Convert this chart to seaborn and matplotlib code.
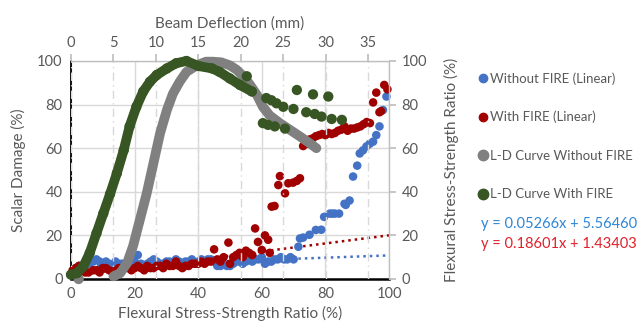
import matplotlib
matplotlib.use("Agg")
import matplotlib.pyplot as plt
import seaborn as sns
import numpy as np
import pandas as pd
from matplotlib.lines import Line2D

# ---------------- data ----------------
# Without FIRE (Linear): flexural stress-strength ratio (%) vs scalar damage (%)
blue_x = [0.5, 1.5, 2.5, 3.5, 4.5, 5.5, 7, 8, 9, 10, 11, 12, 13, 14, 15, 16, 17, 18, 19, 20,
          21, 22, 23, 24, 25, 26, 27, 28, 29, 30, 31, 32, 33, 34, 35, 36, 37, 38, 39, 40,
          41, 42, 43, 44, 45, 46, 47, 48, 49, 50, 51, 52, 53, 54, 55, 56, 57, 58, 59, 60,
          61, 62, 63, 64, 65, 66, 67, 68, 69, 70,
          71.5, 72, 73, 75, 77, 78.7, 79.6, 81.4, 82.2, 83, 84.3, 86, 86.4, 87.6, 88.7,
          90, 90.8, 91.8, 92.9, 93.9, 95, 96, 97, 98.1, 99.2]
blue_y = [3, 5, 6, 6, 7, 7, 8, 9, 8, 7, 8, 7, 6, 8, 7, 7, 6, 8, 9, 8,
          11, 7, 6, 7, 8, 9, 8, 7, 7, 8, 8, 7, 9, 8, 7, 8, 8, 9, 7, 8,
          9, 8, 9, 9, 8, 6, 6, 7, 6, 6, 7, 8, 8, 7, 8, 9, 8, 9, 9, 10,
          7, 8, 8, 9, 9, 10, 9, 9, 10, 9,
          14.8, 18.6, 19, 20.3, 22.5, 22.6, 28.5, 30, 30, 30, 30, 34.5, 34, 36, 47,
          52, 57.6, 59, 60.8, 62, 63, 66, 70, 77.5, 83.7]

# With FIRE (Linear)
red_x = [0.5, 1.5, 2.5, 3.5, 4.5, 5.5, 7, 8, 9, 10, 11, 12, 13, 14, 15, 16, 17, 18, 19, 20,
         21, 22, 23, 24, 25, 26, 27, 28, 29, 30, 31, 32, 33, 34, 35, 36, 37, 38, 39, 40,
         41, 42, 43, 44,
         45, 46, 47, 48, 49.5, 50, 51, 52, 53, 54, 55, 56, 57, 57.9, 58.8, 60, 61, 62, 62.5,
         63.1, 64, 65.2, 65.7, 67.3, 68.3, 69.8, 71, 72, 73, 74, 75, 76, 77, 78, 79, 80,
         81, 82, 83, 84, 85, 86, 87, 88, 89, 90, 91, 92, 93, 94, 95, 96, 97, 97.5, 98.5, 99.5]
red_y = [4, 5, 6, 4, 3, 3, 4, 4, 3, 5, 5, 4, 3, 4, 5, 4, 5, 5, 4, 5,
         6, 5, 4, 6, 5, 5, 6, 6, 5, 7, 6, 6, 8, 6, 5, 6, 6, 7, 7, 7,
         8, 7, 8, 8,
         13.6, 9, 8, 10, 16.7, 7, 10, 11, 12, 10, 13, 12, 11, 23.2, 17, 13.3, 20, 18, 12,
         33.2, 33.5, 43.1, 47.2, 39.3, 43.9, 44.2, 45, 46.2, 61, 62, 64, 64.5, 65.5, 66, 66.5, 66,
         67, 66.5, 67, 68, 68.5, 70, 68, 69, 69, 69.5, 70, 71, 72, 71.5, 81, 85.5, 76.5, 77, 89, 87]

# Linear trendlines (slope, intercept)
trend_blue = [0.05266, 5.56460]
trend_red = [0.18601, 1.43403]
trend_x = [0, 100]

# L-D Curve Without FIRE: beam deflection (mm) vs flexural stress-strength ratio (%)
gray_x = [5.0, 5.8, 6.6, 7.3, 8.1, 8.9, 9.7, 10.5, 11.3, 12.0, 12.8, 13.6, 14.8, 15.9, 16.7,
          17.7, 18.7, 19.5, 20.3, 21.1, 21.9, 22.6, 23.4, 24.6, 25.8, 27.0, 28.1, 28.9]
gray_y = [1.2, 2.7, 7.3, 15, 27, 39, 53, 67, 77.6, 85, 90.5, 95, 98, 99.7, 99.7,
          99.4, 98, 96, 93, 89, 84.4, 79, 75, 71.5, 68.4, 65.3, 62.3, 60]
gray_pt_x = [0.9]
gray_pt_y = [0]

# L-D Curve With FIRE
green_x = [0, 0.7, 1.45, 2.2, 3.0, 3.8, 4.6, 5.4, 6.2, 6.9, 7.7, 8.5, 9.3, 10.1, 11.3,
           12.4, 13.6, 15.0, 16.6, 17.5, 18.7, 19.9, 21.3]
green_y = [2, 2.7, 5.8, 11.9, 21, 30, 39, 48.5, 59, 70, 79, 86, 90.5, 93.6, 96.6,
           99, 100, 97.7, 96.6, 95, 92, 89, 86]
green_pt_x = [20.7, 22.6, 23.2, 24.0, 25.2, 23.0, 23.6, 24.2, 25.0, 26.2, 26.6, 27.7, 28.5,
              28.7, 29.5, 30.3, 30.7, 31.9]
green_pt_y = [93, 71.5, 70.7, 70, 69, 83, 82, 80.6, 79, 78, 86.7, 76.5, 84.7,
              75.7, 74.5, 83.7, 73.4, 73]

# ---------------- style ----------------
sns.set_theme(style="white")
plt.rcParams["font.family"] = ["Lato", "DejaVu Sans"]
TXT = "#595959"
GRID = "#d9d9d9"
C_BLUE = "#4472C4"
C_RED = "#A00000"
C_GRAY = "#808080"
C_GREEN = "#375623"

fig = plt.figure(figsize=(6.41, 3.31), dpi=100)
L, R, B, T = 71 / 641, 389 / 641, 1 - 279 / 331, 1 - 61 / 331
ax = fig.add_axes([L, B, R - L, T - B])
ax2 = fig.add_axes([L, B, R - L, T - B], frameon=False)

# primary axes
ax.set_xlim(0, 100)
ax.set_ylim(0, 100)
ax.set_xticks([0, 20, 40, 60, 80, 100])
ax.set_yticks([0, 20, 40, 60, 80, 100])
ax.grid(True, color=GRID, linewidth=1.0)
ax.set_axisbelow(True)
for s in ["top", "right"]:
    ax.spines[s].set_visible(False)
ax.spines["left"].set_color("black")
ax.spines["bottom"].set_color("black")
ax.spines["left"].set_linewidth(1.3)
ax.spines["bottom"].set_linewidth(1.8)
ax.tick_params(axis="both", length=0, labelsize=10.5, labelcolor=TXT, pad=6)

df_b = pd.DataFrame({"x": blue_x, "y": blue_y})
df_r = pd.DataFrame({"x": red_x, "y": red_y})
tx = np.array(trend_x, dtype=float)
ax.plot(tx, trend_blue[0] * tx + trend_blue[1], color=C_BLUE, linestyle=(0, (1, 1.6)),
        linewidth=1.8, zorder=2)
ax.plot(tx, trend_red[0] * tx + trend_red[1], color=C_RED, linestyle=(0, (1, 1.6)),
        linewidth=1.8, zorder=2)
sns.scatterplot(data=df_b, x="x", y="y", ax=ax, color=C_BLUE, s=38, edgecolor="none",
                zorder=3, clip_on=False)
sns.scatterplot(data=df_r, x="x", y="y", ax=ax, color=C_RED, s=38, edgecolor="none",
                zorder=4, clip_on=False)
ax.set_xlabel("Flexural Stress-Strength Ratio (%)", fontsize=11, color=TXT, labelpad=3)
ax.set_ylabel("Scalar Damage (%)", fontsize=11, color=TXT, labelpad=8)

# secondary axes (top / right)
ax2.set_xlim(0, 37.45)
ax2.set_ylim(0, 100)
ax2.xaxis.tick_top()
ax2.xaxis.set_label_position("top")
ax2.yaxis.tick_right()
ax2.yaxis.set_label_position("right")
ax2.set_xticks([0, 5, 10, 15, 20, 25, 30, 35])
ax2.set_yticks([0, 20, 40, 60, 80, 100])
ax2.grid(True, axis="x", color=GRID, linewidth=1.0, linestyle=(0, (6, 3, 1, 3)))
ax2.grid(False, axis="y")
ax2.tick_params(axis="x", length=5, color="#bfbfbf", labelsize=10.5, labelcolor=TXT, pad=3)
ax2.tick_params(axis="y", length=5, color="#bfbfbf", labelsize=10.5, labelcolor=TXT, pad=4)
ax2.axhline(100, color="#bfbfbf", linewidth=1.0, clip_on=False, zorder=1)
ax2.axvline(37.45, color="#bfbfbf", linewidth=1.0, clip_on=False, zorder=1)

df_g = pd.DataFrame({"x": gray_x, "y": gray_y})
df_gr = pd.DataFrame({"x": green_x, "y": green_y})
df_gp = pd.DataFrame({"x": gray_pt_x, "y": gray_pt_y})
df_grp = pd.DataFrame({"x": green_pt_x, "y": green_pt_y})
sns.lineplot(data=df_g, x="x", y="y", ax=ax2, color=C_GRAY, linewidth=7,
             solid_capstyle="round", sort=False, estimator=None, zorder=5, clip_on=False)
sns.scatterplot(data=df_gp, x="x", y="y", ax=ax2, color=C_GRAY, s=55, edgecolor="none",
                zorder=5, clip_on=False)
sns.lineplot(data=df_gr, x="x", y="y", ax=ax2, color=C_GREEN, linewidth=7,
             solid_capstyle="round", sort=False, estimator=None, zorder=6, clip_on=False)
sns.scatterplot(data=df_gr, x="x", y="y", ax=ax2, color=C_GREEN, s=55, edgecolor="none",
                zorder=6, clip_on=False)
sns.scatterplot(data=df_grp, x="x", y="y", ax=ax2, color=C_GREEN, s=55, edgecolor="none",
                zorder=6, clip_on=False)
ax2.set_xlabel("Beam Deflection (mm)", fontsize=11, color=TXT, labelpad=6)
ax2.set_ylabel("Flexural Stress-Strength Ratio (%)", fontsize=11, color=TXT, labelpad=12)

# legend
handles = [
    Line2D([], [], marker="o", linestyle="none", color=C_BLUE, markersize=6),
    Line2D([], [], marker="o", linestyle="none", color=C_RED, markersize=6),
    Line2D([], [], marker="o", linestyle="none", color=C_GRAY, markersize=7.5),
    Line2D([], [], marker="o", linestyle="none", color=C_GREEN, markersize=7.5),
]
labels = ["Without FIRE (Linear)", "With FIRE (Linear)", "L-D Curve Without FIRE",
          "L-D Curve With FIRE"]
leg = fig.legend(handles, labels, loc="upper left", bbox_to_anchor=(476 / 641, 1 - 72 / 331),
                 frameon=False, fontsize=9.5, labelspacing=2.0, handletextpad=0.05,
                 handlelength=1.0, borderaxespad=0, borderpad=0)
for t in leg.get_texts():
    t.set_color(TXT)

fig.text(481 / 641, 1 - 224 / 331, "y = 0.05266x + 5.56460", color="#2E86D6",
         fontsize=10.5, va="center", ha="left")
fig.text(481 / 641, 1 - 244 / 331, "y = 0.18601x + 1.43403", color="#E0202A",
         fontsize=10.5, va="center", ha="left")

fig.savefig("out.png", dpi=100)
